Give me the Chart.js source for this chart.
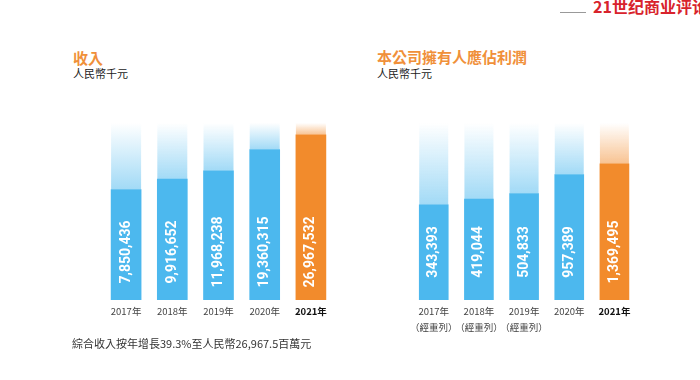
<!DOCTYPE html>
<html>
<head>
<meta charset="utf-8">
<script src="https://cdn.jsdelivr.net/npm/chart.js@4.4.1/dist/chart.umd.min.js"></script>
<style>
body { margin: 0; background: #fff; font-family: "Noto Sans CJK TC", "Noto Sans", sans-serif; }
#page { position: relative; width: 700px; height: 380px; overflow: hidden; background: #fff; }
.t { position: absolute; white-space: nowrap; line-height: 1; }
.title { color: #f0903a; font-size: 15px; font-weight: bold; }
.unit { color: #222; font-size: 11px; }
canvas { position: absolute; }
</style>
</head>
<body>
<div id="page">
  <div class="t" style="left:560px;top:12px;width:26px;border-top:1px solid #999"></div>
  <div class="t" style="left:593px;top:-2px;color:#d8232c;font-size:16px;font-weight:bold">21世纪商业评论</div>

  <div class="t title" style="left:73px;top:50px">收入</div>
  <div class="t unit" style="left:73px;top:68px">人民幣千元</div>
  <div class="t title" style="left:377px;top:49px">本公司擁有人應佔利潤</div>
  <div class="t unit" style="left:377px;top:68px">人民幣千元</div>

  <canvas id="revenueChart" width="231" height="217" style="left:103px;top:123px"></canvas>
  <canvas id="profitChart" width="230" height="217" style="left:407px;top:123px"></canvas>

  <div class="t" style="left:72px;top:338px;color:#333;font-size:11px">綜合收入按年增長39.3%至人民幣26,967.5百萬元</div>
</div>

<script>
const years = ['2017年', '2018年', '2019年', '2020年', '2021年'];
const restated = ['（經重列）', '（經重列）', '（經重列）', '', ''];

// 人民幣千元
const revenue = [7850436, 9916652, 11968238, 19360315, 26967532];
const profit = [343393, 419044, 504833, 957389, 1369495];

const blue = '#4cb8ee';
const orange = '#f28b2c';
const latest = 4;

// faded column above each bar
const columnFade = {
    id: 'columnFade',
    beforeDatasetsDraw(chart) {
        const ctx = chart.ctx;
        const top = chart.chartArea.top;
        chart.getDatasetMeta(0).data.forEach((bar, i) => {
            const rgb = i === latest ? '242,139,44' : '76,184,238';
            const g = ctx.createLinearGradient(0, top, 0, bar.y);
            g.addColorStop(0, 'rgba(' + rgb + ',0)');
            g.addColorStop(1, 'rgba(' + rgb + ',0.52)');
            ctx.fillStyle = g;
            ctx.fillRect(bar.x - bar.width / 2, top, bar.width, bar.y - top);
        });
    }
};

// rotated value inside each bar
const valueText = {
    id: 'valueText',
    afterDatasetsDraw(chart) {
        const ctx = chart.ctx;
        const values = chart.data.datasets[0].data;
        chart.getDatasetMeta(0).data.forEach((bar, i) => {
            ctx.save();
            ctx.translate(bar.x, chart.chartArea.bottom - 48);
            ctx.rotate(-Math.PI / 2);
            ctx.fillStyle = '#fff';
            ctx.font = 'bold 14px Roboto';
            ctx.textAlign = 'center';
            ctx.textBaseline = 'middle';
            ctx.fillText(values[i].toLocaleString('en-US'), 0, 0);
            ctx.restore();
        });
    }
};

function makeChart(id, labels, values, yMin, yMax, thickness) {
    return new Chart(document.getElementById(id), {
        type: 'bar',
        data: {
            labels: labels,
            datasets: [{
                data: values,
                backgroundColor: values.map((v, i) => i === latest ? orange : blue),
                barThickness: thickness
            }]
        },
        options: {
            responsive: false,
            animation: false,
            events: [],
            layout: { padding: 0 },
            plugins: { legend: { display: false }, tooltip: { enabled: false } },
            scales: {
                x: {
                    grid: { display: false, drawTicks: false },
                    border: { display: false },
                    ticks: {
                        padding: 3,
                        autoSkip: false,
                        maxRotation: 0,
                        color: c => c.index === latest ? '#111' : '#444',
                        font: c => ({
                            family: '"Noto Sans CJK TC", sans-serif',
                            size: 9.5,
                            weight: c.index === latest ? 'bold' : 'normal',
                            lineHeight: 1.7
                        })
                    },
                    afterFit: s => { s.height = 40; }
                },
                y: {
                    type: 'logarithmic',
                    display: false,
                    bounds: 'data',
                    min: yMin,
                    max: yMax
                }
            }
        },
        plugins: [columnFade, valueText]
    });
}

makeChart('revenueChart', years, revenue, 649000, 35200000, 30);
makeChart('profitChart', years.map((y, i) => restated[i] ? [y, restated[i]] : y), profit, 14000, 5420000, 29);
</script>
</body>
</html>
